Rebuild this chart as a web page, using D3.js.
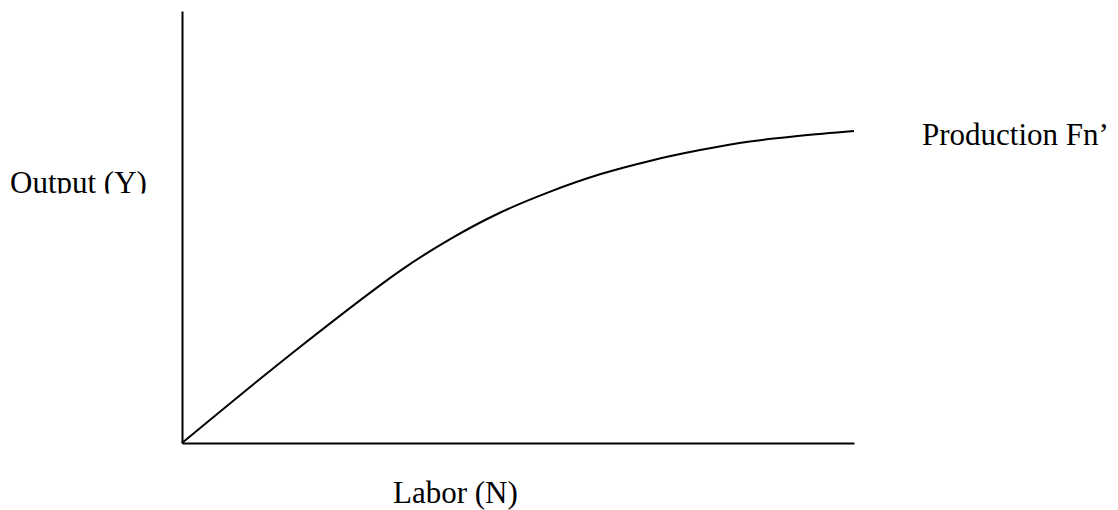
<!DOCTYPE html>
<html>
<head>
<meta charset="utf-8">
<script src="https://cdn.jsdelivr.net/npm/d3@7"></script>
<style>
  html, body { margin: 0; padding: 0; background: #fff; }
  svg { display: block; }
</style>
</head>
<body>
<svg width="1118" height="510"></svg>
<script>
// Production function curve (arbitrary units, axes run 0-100)
const labor = [0, 17.6, 32.4, 39.9, 47.3, 54.8, 62.2, 69.6, 77.1, 84.5, 92.0, 100];
const output = [0, 22.3, 39.8, 47.2, 53.3, 58.2, 62.2, 65.3, 67.8, 69.8, 71.1, 72.2];

const curveLabel = "Production Fn\u2019";
const xLabel = "Labor (N)";
const yLabel = "Output (Y)";

const serif = "'Liberation Serif', 'Times New Roman', Times, serif";

const svg = d3.select("svg");

// plot area in pixels
const plotLeft = 182, plotRight = 854, plotBottom = 443, plotTop = 11;

const x = d3.scaleLinear().domain([0, 100]).range([plotLeft, plotRight]);
const y = d3.scaleLinear().domain([0, 100]).range([plotBottom, plotTop]);

// axes with no ticks, just the lines
svg.append("g")
  .attr("transform", `translate(0,${plotBottom})`)
  .call(d3.axisBottom(x).tickValues([]).tickSizeOuter(0));
svg.append("g")
  .attr("transform", `translate(${plotLeft},0)`)
  .call(d3.axisLeft(y).tickValues([]).tickSizeOuter(0));
svg.selectAll(".domain").attr("stroke", "#000").attr("stroke-width", 2);

// the curve
const pts = labor.map((d, i) => [d, output[i]]);
const line = d3.line()
  .x(d => x(d[0]))
  .y(d => y(d[1]))
  .curve(d3.curveCatmullRom.alpha(0.5));

svg.append("path")
  .datum(pts)
  .attr("d", line)
  .attr("fill", "none")
  .attr("stroke", "#000")
  .attr("stroke-width", 2);

// labels
svg.append("text")
  .attr("x", 922)
  .attr("y", 145)
  .attr("font-family", serif)
  .attr("font-size", 31)
  .text(curveLabel);

svg.append("text")
  .attr("x", 393)
  .attr("y", 503)
  .attr("font-family", serif)
  .attr("font-size", 31)
  .text(xLabel);

// the y label is cut off at the bottom in the original
svg.append("clipPath").attr("id", "ycut")
  .append("rect").attr("x", 0).attr("y", 0).attr("width", 180).attr("height", 193.5);

svg.append("text")
  .attr("x", 10)
  .attr("y", 193)
  .attr("font-family", serif)
  .attr("font-size", 31)
  .attr("clip-path", "url(#ycut)")
  .text(yLabel);
</script>
</body>
</html>
